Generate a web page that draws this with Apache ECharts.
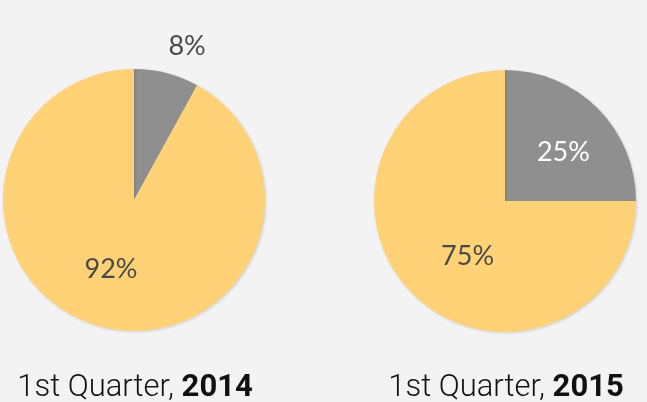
<!DOCTYPE html>
<html>
<head>
<meta charset="utf-8">
<style>
  html, body { margin: 0; padding: 0; background: #f3f3f3; }
  #main { width: 647px; height: 402px; }
</style>
<script src="https://cdn.jsdelivr.net/npm/echarts@6/dist/echarts.min.js"></script>
</head>
<body>
<div id="main"></div>
<script>
// data
const years = ['2014', '2015']
const quarterLabel = '1st Quarter'
const sliceNames = ['Share A', 'Share B']
const values2014 = [8, 92]
const values2015 = [25, 75]

const colors = ['#8f8f8f', '#ffd278']
const centers = [[134, 200], [505, 201]]
const captionX = [130, 501]
// nudge labels to where they sit in the picture
const labelOffsets = [
  [[36, -87], [-6, 3]],
  [[10, 0], [11, 7]]
]
const labelColors = [
  ['#4a4a4a', '#4a4a4a'],
  ['#ffffff', '#4a4a4a']
]

const chart = echarts.init(document.getElementById('main'))

const makeData = (values, i) => values.map((v, j) => ({
  name: sliceNames[j],
  value: v,
  itemStyle: { color: colors[j] },
  label: { offset: labelOffsets[i][j], color: labelColors[i][j] }
}))

const allValues = [values2014, values2015]

const option = {
  backgroundColor: '#f3f3f3',
  animation: false,
  title: years.map((y, i) => ({
    text: '{l|' + quarterLabel + ', }{b|' + y + '}',
    left: captionX[i],
    textAlign: 'center',
    top: 368,
    textStyle: {
      rich: {
        l: { fontFamily: 'Roboto', fontWeight: 300, fontSize: 31, color: '#111' },
        b: { fontFamily: 'Roboto', fontWeight: 'bold', fontSize: 31, color: '#111' }
      }
    }
  })),
  series: allValues.map((vals, i) => ({
    type: 'pie',
    center: centers[i],
    radius: 131,
    startAngle: 90,
    clockwise: true,
    silent: true,
    itemStyle: {
      borderWidth: 0,
      shadowBlur: 3,
      shadowOffsetX: 1,
      shadowOffsetY: 1,
      shadowColor: 'rgba(0,0,0,0.15)'
    },
    label: {
      show: true,
      position: 'inside',
      formatter: '{c}%',
      fontFamily: 'Lato',
      fontSize: 27
    },
    labelLine: { show: false },
    data: makeData(vals, i)
  }))
}

chart.setOption(option)
</script>
</body>
</html>
